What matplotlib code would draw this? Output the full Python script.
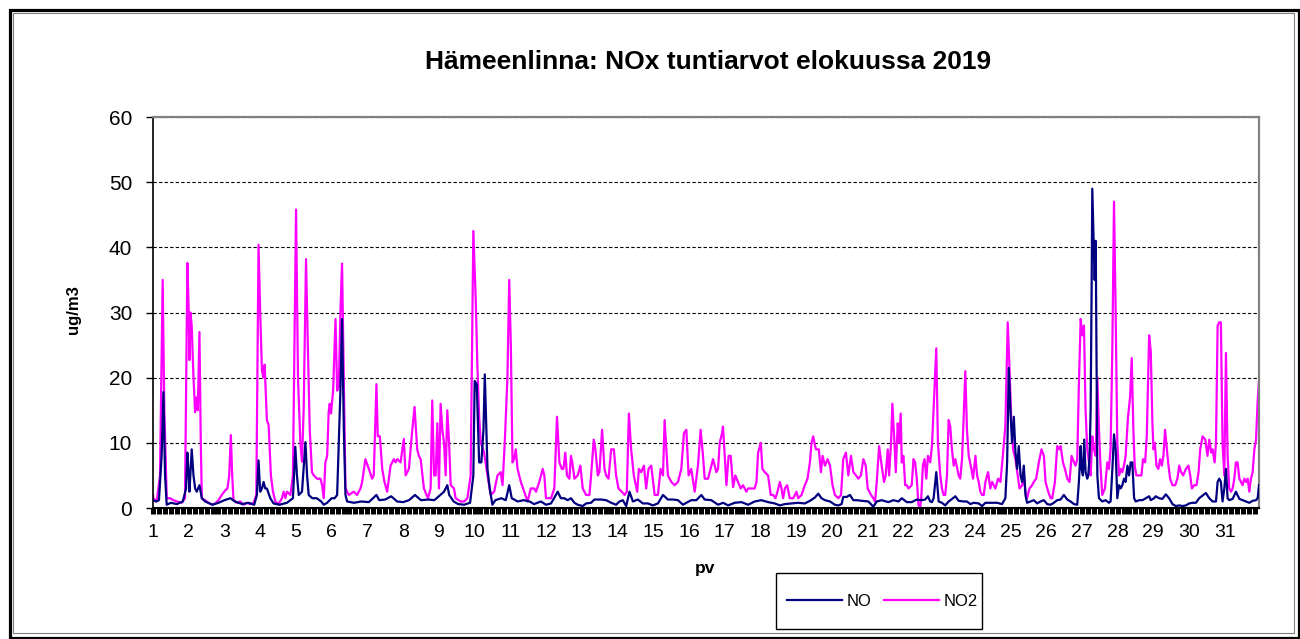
import matplotlib
matplotlib.use("Agg")
import matplotlib.pyplot as plt
from matplotlib.patches import Rectangle
from matplotlib.ticker import FixedLocator

plt.rcParams['font.family'] = ['Liberation Sans', 'DejaVu Sans']

title = "Hämeenlinna: NOx tuntiarvot elokuussa 2019"
day_labels = [str(d) for d in range(1, 32)]
y_ticks = [0, 10, 20, 30, 40, 50, 60]

# hour of month (0 = 1.8. 00:00) and value
no_hour = [0, 2, 4, 5.8, 7, 8.1, 9.2, 12, 16, 20, 22.2, 23.1, 24, 24.5, 26, 27.2, 28.3, 29.4, 31.2, 32.8,
           35, 40, 44, 48, 52, 55, 60, 64, 68, 69.8, 70.9, 72, 73.2, 74.3, 75.4, 76.5, 78.8, 81, 85, 90,
           94, 95.6, 96.7, 97.9, 100.1, 102.4, 103.5, 104.6, 107, 110, 113, 114.7, 117, 120, 122, 123.7,
           124.8, 125.9, 127, 128.2, 129.3, 130.4, 135, 140, 145, 150.1, 152, 156, 160, 164, 168, 172,
           176, 180, 185, 189, 193, 195.5, 197.7, 199, 202, 205, 209, 213, 215.2, 216.1, 217.5, 218.4,
           219.1, 220.6, 222, 222.9, 224.7, 226.2, 228, 230, 234, 237, 239.3, 241, 245, 249, 253, 256,
           260.6, 264, 267.4, 271.9, 274, 276.3, 278.6, 280.8, 283.1, 285.3, 288.7, 291, 294.3, 296.5,
           301, 304.4, 307.8, 311.1, 313.4, 315.6, 317.9, 320.1, 322.4, 325.7, 329.1, 332.5, 335.8,
           339.2, 342.6, 345.9, 349.3, 352.7, 356, 358.3, 361.6, 365, 368.4, 370.6, 375.1, 379.6, 383,
           386.3, 390.8, 395.3, 399.8, 404.2, 408.7, 413.2, 417.7, 421.1, 424.5, 428.9, 433.4, 437.9,
           441.3, 444.6, 446.9, 449.1, 451.4, 454.8, 458.1, 460.4, 462.6, 463.7, 466, 468.2, 470.5,
           472.7, 476.1, 480.6, 483.9, 486.2, 489.5, 494, 497.4, 500.8, 503, 506.4, 509.7, 513.1, 516.5,
           518.8, 520.6, 522.1, 523.3, 524.4, 526.2, 527.8, 530, 532.2, 534.5, 536.3, 539, 541.2, 544.6,
           546.8, 549.1, 551.3, 554.7, 557, 559.2, 563.7, 567, 570.4, 572.6, 573.8, 574.9, 576, 577.1,
           578.3, 579.4, 580.5, 581.6, 582.8, 583.9, 585, 586.1, 587.2, 589.5, 591.7, 594, 596.2, 598.5,
           600.7, 603, 605.2, 607.4, 609.7, 611.9, 614.2, 616.4, 618.7, 620.9, 622, 623.2, 623.8, 624.7,
           625.6, 626.5, 627.6, 628.3, 629.2, 629.9, 630.6, 631, 631.9, 632.6, 633.3, 633.9, 634.4,
           635.5, 637.7, 640, 642.2, 643.3, 644.5, 645.6, 646.7, 647.8, 649, 650.1, 651.2, 652.3, 653.4,
           654.6, 655.7, 656.8, 657.9, 659.1, 660.2, 662.4, 664.7, 666.9, 669.2, 670.3, 672.5, 673.6,
           675.9, 678.1, 680.4, 682.6, 684.9, 687.1, 689.4, 691.6, 693.9, 696.1, 698.3, 700.6, 702.8,
           705.1, 707.3, 709.6, 711.8, 714.1, 715.2, 716.3, 717.4, 718.5, 719.7, 720.8, 721.9, 723,
           725.3, 727.5, 729.8, 732, 734.3, 736.5, 738.7, 741, 742.1, 743]
no_value = [1.2, 1, 1.2, 8, 17.8, 5, 0.5, 0.8, 0.6, 1, 3, 8.5, 5, 2.5, 9, 5, 3, 2.5, 3.5, 1.5,
            1, 0.5, 0.8, 1.2, 1.5, 1, 0.6, 0.8, 0.5, 2, 7.3, 2.5, 3, 4, 3, 3, 1.5, 0.7, 0.5, 0.8,
            1.5, 9.4, 5, 2, 2.5, 10.1, 5, 2, 1.5, 1.5, 1, 0.5, 0.8, 1.5, 1.5, 2,
            10, 18, 29, 12, 2, 1, 0.8, 1, 0.9, 2, 1.2, 1.3, 1.8, 1, 0.9, 1.2,
            2, 1.2, 1.3, 1.2, 2, 2.5, 3.5, 2, 1, 0.6, 0.5, 0.8, 5, 19.5, 19, 12,
            7, 7, 12, 20.5, 6, 3, 0.5, 1.2, 1.5, 1.2, 3.5, 1.5, 1, 1.2, 1, 0.6,
            1, 0.5, 0.7, 2.5, 1.5, 1.5, 1.2, 1.5, 0.8, 0.5, 0.3, 0.7, 0.8, 1.3,
            1.3, 1.2, 0.8, 0.5, 1, 1.2, 0.3, 2.5, 1, 1.3, 0.7, 0.7, 0.4,
            0.7, 2, 1.3, 1.3, 1.2, 0.5, 0.8, 1.2, 1.2, 2, 1.3, 1.2, 0.5, 0.8,
            0.4, 0.8, 0.9, 0.5, 1, 1.2, 0.9, 0.7, 0.4, 0.6, 0.7, 0.8, 0.7,
            1.1, 1.6, 2.2, 1.5, 1.2, 1, 0.5, 0.4, 0.6, 1.7, 1.7, 2, 1.2,
            1.2, 1.1, 1, 0.2, 1, 1.2, 0.9, 1.2, 1, 1.5, 0.9, 0.9, 1.3, 1.2,
            1.3, 1.8, 1, 0.9, 1.5, 5.5, 1, 0.8, 0.4, 1, 1.3, 1.8, 1.1, 1,
            1, 0.6, 0.8, 0.7, 0.3, 0.8, 0.8, 0.8, 0.6, 1.5, 7, 21.5, 15, 10,
            14, 8.5, 6, 9.5, 5, 4, 6.5, 2, 0.8, 1, 1.2, 0.7, 1, 1.2,
            0.6, 0.5, 0.8, 1.2, 1.3, 2, 1.3, 1, 0.6, 0.5, 4, 9.5, 6, 5,
            10.5, 5.5, 4.5, 5, 8, 15, 35, 49, 41, 35, 41, 20, 5,
            1.5, 1, 1.2, 0.8, 1, 6, 11.3, 9, 1.5, 3.5, 3, 3.5, 4.5, 4,
            6.5, 5, 7, 7, 1.5, 1, 1.2, 1.2, 1.5, 1.8, 1.2, 1.5, 1.8,
            1.5, 1.4, 2.1, 1.5, 0.6, 0.3, 0.4, 0.3, 0.4, 0.7, 0.8, 0.8, 1.5,
            1.9, 2.3, 1.5, 1, 1, 4, 4.5, 4, 1, 3, 6, 1.5, 1.2,
            1.4, 2.5, 1.4, 1.2, 1, 0.8, 1.1, 1.2, 1.5, 3.5]

no2_hour = [0, 0.2, 2.5, 4.7, 6.5, 7.6, 9.2, 11.4, 13.7, 16, 19.3, 21.5, 23.1, 24, 24.5, 25.1, 26, 27.2,
            28.3, 29.4, 30.1, 31.2, 32.1, 32.8, 35, 37.3, 39.5, 41.8, 44, 46.2, 48.5, 50, 51.2, 52.3,
            53.2, 54.1, 56.3, 58.6, 60.8, 63.1, 65.3, 67.6, 69.4, 70.9, 72, 73.2, 74.3, 75, 76.5, 77.7,
            79.2, 80.6, 82.2, 84.4, 86.6, 87.8, 88.9, 90, 92.3, 94, 96.1, 97.4, 99, 100.1, 101.2, 102.8,
            104, 105.3, 106.8, 108, 110.2, 112.5, 113.6, 114.7, 115.8, 117, 118, 118.7, 119.6, 121,
            122.6, 123.7, 124.8, 125.9, 127, 128.2, 129.3, 131.5, 134.9, 137.1, 139.4, 140.5, 142.7,
            145, 147.2, 148.3, 150.1, 151, 152.4, 154, 155.5, 157.3, 159.6, 160.7, 161.8, 162.9, 164.1,
            166.3, 168.5, 169.7, 171.9, 174.2, 175.7, 177.5, 178.6, 179.8, 182, 184.7, 186.5, 187.6,
            188.8, 189.9, 191, 192.1, 193.2, 194.4, 195.5, 196.6, 197.7, 198.9, 200, 202.2, 203.3,
            206.7, 209, 211.2, 213.4, 215.2, 216.8, 217.9, 219.1, 220.2, 222.4, 224.7, 226.9, 229.2,
            231.4, 233.6, 234.8, 236.3, 238.1, 239.3, 240.4, 241.5, 242.6, 243.7, 244.9, 247.1, 249.4,
            251.6, 253.8, 256.1, 257.3, 259.5, 261.8, 262.9, 264, 267.4, 269.6, 271.4, 273, 274.6,
            275.7, 277, 278.1, 279.7, 280.8, 282, 283.1, 285.3, 287.1, 288.7, 290.9, 293.2, 294.3,
            296.1, 297.2, 298.8, 299.9, 301.7, 303.3, 304.4, 306, 307.8, 309.6, 311.1, 312.7, 314.9,
            316.8, 318.3, 319.7, 321.2, 323, 325.3, 326.4, 328, 329.8, 331.3, 332.9, 334.7, 337, 339.2,
            341, 342.6, 343.7, 345.9, 348.2, 350.4, 352.7, 354.9, 356.7, 358.3, 359.8, 361.6, 363.9,
            366.1, 367.9, 369.5, 370.6, 372.9, 375.1, 376.2, 378.5, 379.6, 380.7, 382.3, 382.9, 384.1,
            385.2, 386.7, 388.1, 389.7, 391.2, 393, 394.8, 396.4, 398.6, 399.8, 402, 404.2, 405.4,
            406.5, 408.3, 409.4, 411, 413.2, 415, 416.6, 418.2, 419.5, 421.1, 422.2, 423.3, 424.5, 426,
            427.8, 430.1, 432.3, 433.4, 435.7, 437.9, 439.7, 441.3, 442.4, 443.5, 445.3, 447.3, 448.7,
            449.8, 451.4, 453.2, 454.8, 456.5, 458.1, 460.4, 462.2, 463.7, 465.5, 467.1, 468.9, 470.5,
            472.3, 473.8, 475.6, 477.2, 478.8, 480.1, 482.4, 483.9, 485.1, 486.2, 487.8, 489.5, 491.1,
            492.2, 493.6, 494.5, 495.8, 496.7, 498.1, 499, 500.3, 501.2, 502.3, 503, 504.1, 505.3,
            506.4, 507.5, 509.7, 510.9, 512, 513.1, 514.2, 515.4, 516.1, 517.2, 518.3, 519.5, 520.6,
            522.1, 523.3, 525.1, 526.2, 527.3, 528.9, 530, 531.1, 532.2, 533.4, 534.5, 535.6, 536.7,
            537.9, 539, 541.2, 542.3, 543.5, 544.6, 545.7, 546.8, 548, 549.8, 550.9, 552.5, 553.6,
            554.7, 555.8, 557, 558.1, 559.2, 561, 562.5, 563.7, 564.8, 565.9, 567.7, 569.3, 570.9,
            572.6, 574.2, 575.3, 576.5, 577.8, 579.4, 581.2, 582.1, 583.9, 585, 586.1, 587.2, 588.8,
            590.6, 591.7, 593.3, 595.1, 596.9, 598.5, 599.6, 601.4, 603, 604.1, 605.9, 607.4, 608.6,
            609.7, 611.3, 612.6, 614.2, 615.7, 617.1, 618.7, 619.8, 620.9, 622, 623.2, 624.3, 625.4,
            626.5, 627.6, 628.8, 629.9, 631, 632.1, 633.3, 634.4, 635.5, 636.6, 637.7, 639.5, 641.1,
            642.2, 643.3, 644.5, 645.6, 646.7, 647.8, 649, 650.1, 651.2, 652.3, 653.4, 655, 656.4,
            657.5, 658.6, 659.5, 660.6, 662.4, 664, 665.1, 666.5, 667.6, 669.2, 670.3, 671.4, 672.1,
            673, 674.1, 675.4, 676.6, 677.7, 678.8, 679.9, 681.1, 682.2, 683.3, 684.9, 686.7, 688.2,
            689.4, 690.7, 692.1, 693.9, 695.6, 696.8, 697.9, 699.5, 701, 702.4, 703.5, 705.1, 706.9,
            708.4, 709.6, 710.9, 711.8, 713.2, 714.1, 715.2, 716.3, 717.4, 718.5, 719.7, 720.8, 721.9,
            723, 724.2, 725.3, 726.4, 727.5, 728.6, 729.8, 730.9, 732, 733.1, 734.3, 735.4, 736.5,
            737.6, 738.7, 739.9, 741, 742.1, 743]
no2_value = [2, 1.5, 1, 5, 35, 15, 1.5, 1.5, 1.2, 1, 0.8, 1.5, 37.6, 30, 22.7, 30, 28, 20,
             14.7, 17, 15, 27, 10, 1.5, 1.2, 0.8, 0.5, 0.7, 1.2, 2, 2.7, 3, 5, 11.2,
             5, 1.2, 0.8, 1, 0.5, 0.8, 0.6, 0.8, 2, 40.4, 30, 21, 20, 22, 13.5, 12.7,
             5, 2.5, 1, 0.6, 1.5, 2.5, 1.5, 2.5, 2, 5, 45.8, 20, 10, 7.1, 15, 38.2,
             25, 12, 5.5, 5, 4.5, 4.5, 3.5, 1.5, 7, 8, 14.7, 16, 14.5, 18,
             29, 18, 18.5, 30, 37.5, 20, 3, 2, 2.5, 2, 3, 4, 7.5,
             6, 4.5, 5, 19, 11, 11, 6, 4, 2.5, 6.5, 7, 7.5, 7, 7.5,
             7, 10.6, 5, 6, 12, 15.5, 9, 8, 7.5, 3, 1.5, 3, 16.5,
             5, 5, 13, 3, 16, 12, 10, 5, 15, 10, 3.5, 3, 1.5,
             1, 1, 1.5, 5, 42.5, 32, 22, 14, 10, 8.5, 5, 2, 2.5,
             5, 5.5, 3.5, 10, 20, 35, 25, 7, 7.5, 9, 6, 4, 2.5,
             1, 3, 3, 2.5, 4, 6, 5, 1.5, 1.5, 3, 14, 7, 6,
             6, 8.5, 5, 4.5, 8, 6.5, 4.5, 5, 6.5, 3, 2, 2, 5,
             10.5, 9, 5, 5.5, 12, 6, 5, 4.5, 9, 9, 5, 3, 2.5,
             2, 2.5, 14.5, 9, 5, 2.5, 6, 5.5, 6.5, 3, 6, 6.5, 2, 2,
             6, 5, 13.5, 5, 4, 3.5, 4, 6, 11.5, 12, 5, 6, 2.5,
             6.5, 12, 8, 4.5, 4.5, 6.5, 7.5, 5.5, 6, 10, 11.5, 12.5, 8,
             3.5, 8, 8, 3.2, 5, 4, 3, 3.5, 2.5, 3, 3, 3, 4,
             8.5, 10, 6, 5.5, 5, 2, 2, 1.5, 2.5, 4, 3, 1.5, 3, 3.5,
             1.5, 1.5, 2.5, 1.5, 2, 3.5, 4.5, 7, 10, 11, 9, 9, 5.5,
             8, 6.5, 7.5, 6.5, 3.5, 2, 1.5, 2, 7.5, 8.5, 5, 8, 5.5,
             5, 4.5, 5, 7.5, 6.5, 3, 2, 1.5, 1, 4, 9.5, 6.5, 4,
             5, 9, 5, 10, 16, 10, 5.5, 13, 10, 14.5, 7, 8, 3.5,
             3.5, 3, 3.5, 7.5, 7, 4.5, 0.5, 0, 1.5, 6.5, 7.5, 4.5, 8,
             7, 9.5, 18.6, 24.5, 10, 5, 3, 2, 2, 5, 13.5, 12.5, 9,
             6.5, 7.5, 5, 4.5, 7.5, 14, 21, 12, 8, 6, 4.5, 8, 5,
             4, 2.5, 2, 2, 4, 5.5, 3, 4, 3.5, 3, 4.5, 4, 8,
             12.5, 28.5, 22, 14, 9, 7.5, 4.5, 3, 3.5, 5, 2.5, 1.5, 3,
             3.5, 4, 4.5, 7, 9, 8, 4, 2.5, 1.5, 1.5, 4, 9.5, 9,
             9.5, 7, 6, 4.5, 4, 8, 7, 6.5, 7.5, 19, 29, 26.5, 28,
             15, 9, 7, 5, 11, 9, 8, 20, 12, 6, 2, 3, 7,
             6, 9, 25, 47, 30, 10, 5, 6, 5.5, 6.5, 8, 14, 17,
             23, 12, 6.5, 5, 5, 5, 7.5, 7, 11, 26.5, 24, 13, 9,
             10, 6.5, 6, 7.5, 6.5, 8, 12, 9, 6.5, 4.5, 3.5, 3.5, 4.5,
             6.5, 5.5, 5, 6, 6.5, 5, 3, 3.5, 3.5, 5.5, 9, 11, 10.5,
             8, 10.5, 8.5, 9, 7, 10, 28, 28.5, 28.5, 10, 5, 23.8, 8,
             3, 2.5, 3, 4.5, 7, 7, 4.5, 4, 3.5, 4.5, 4, 4.5, 2.5,
             4.5, 5.5, 9, 10.5, 16.5, 19.5]

fig = plt.figure(figsize=(13, 6.39), dpi=100)
W, H = 1300, 639

# outer frame of the chart
fig.add_artist(Rectangle((9.5 / W, 1 - 637.5 / H), (1298.5 - 9.5) / W, (637.5 - 9.5) / H,
                         transform=fig.transFigure, fill=False, edgecolor='black', lw=2.3))
fig.add_artist(Rectangle((13 / W, 1 - 633 / H), (1294 - 13) / W, (633 - 13) / H,
                         transform=fig.transFigure, fill=False, edgecolor='#808080', lw=0.8))

ax = fig.add_axes([153 / W, 1 - 508 / H, 1106 / W, 391 / H])
ax.plot(no_hour, no_value, color='#000080', lw=1.6, label='NO', zorder=3)
ax.plot(no2_hour, no2_value, color='#FF00FF', lw=1.6, label='NO2', zorder=2)

ax.set_xlim(0, 743)
ax.set_ylim(0, 60)
ax.set_yticks(y_ticks)
ax.set_yticklabels([str(v) for v in y_ticks], fontsize=15)
ax.set_xticks([24 * i for i in range(31)])
ax.set_xticklabels(day_labels, fontsize=14)
ax.xaxis.set_minor_locator(FixedLocator([h for h in range(0, 744, 4) if h % 24]))
ax.tick_params(axis='x', which='both', direction='out', length=4.2, width=3.6, color='black', pad=7)
ax.tick_params(axis='y', which='major', direction='out', length=5, width=1, color='black', pad=10)

ax.yaxis.grid(True, color='black', linestyle=(0, (3, 2)), lw=0.8)
ax.set_axisbelow(True)
for s in ['top', 'right']:
    ax.spines[s].set_color('#808080')
    ax.spines[s].set_linewidth(1.6)
ax.spines['left'].set_color('black')
ax.spines['bottom'].set_color('black')
ax.spines['left'].set_linewidth(1.2)
ax.spines['bottom'].set_linewidth(1.5)

fig.text(708 / W, 1 - 62 / H, title, ha='center', va='center', fontsize=19, fontweight='bold')
fig.text(73 / W, 1 - 310 / H, 'ug/m3', ha='center', va='center', rotation=90, fontsize=12,
         fontweight='bold')
fig.text(705 / W, 1 - 568 / H, 'pv', ha='center', va='center', fontsize=12.5, fontweight='bold')

# legend box below the plot
fig.add_artist(Rectangle((776 / W, 1 - 629 / H), (982 - 776) / W, (629 - 573) / H,
                         transform=fig.transFigure, fill=False, edgecolor='black', lw=1.0))
leg = fig.legend(loc='center', bbox_to_anchor=(882.5 / W, 1 - 601 / H), ncol=2,
                 fontsize=12, frameon=False, handlelength=3.3,
                 handletextpad=0.3, columnspacing=0.7, borderpad=0.2)
for line in leg.get_lines():
    line.set_linewidth(1.6)

fig.savefig('out.png', dpi=100)
